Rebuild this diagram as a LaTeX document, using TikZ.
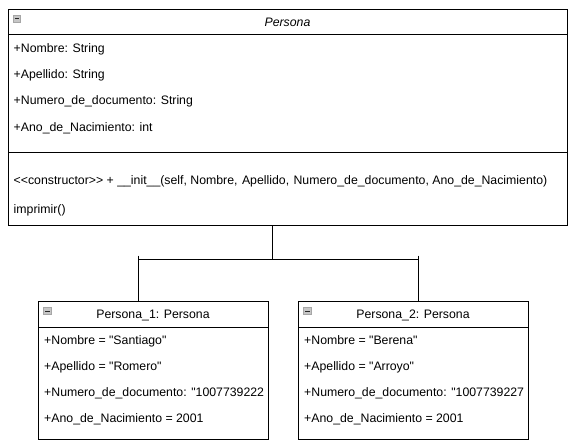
\documentclass[tikz,border=0pt]{standalone}
\usepackage{fontspec}
\setmainfont{Liberation Sans}
\usepackage{tikz}

\begin{document}
\begin{tikzpicture}[x=1pt,y=-1pt,
	every node/.style={font=\fontsize{12.3}{14}\selectfont},
	classbox/.style={draw=black,line width=1pt,anchor=north west,inner sep=0pt},
	member/.style={anchor=base west,inner sep=0pt},
	title/.style={anchor=base,inner sep=0pt},
	icon/.style={draw=gray!70,fill=gray!45,line width=0.8pt,minimum size=7.5pt,inner sep=0pt,
		path picture={\draw[black!85,line width=1pt] ([xshift=1.6pt]path picture bounding box.west) -- ([xshift=-1.6pt]path picture bounding box.east);}}]

	\useasboundingbox (0,0) rectangle (573,444);

	% clase Persona
	\node[classbox,minimum width=559pt,minimum height=216pt] (persona) at (8,9) {};
	\node[icon] (iconpersona) at (17,19) {};
	\node[title] (titlepersona) at (287.5,26.5) {\textit{Persona}};
	\draw[line width=1pt] (persona.west |- 0,35) -- (persona.east |- 0,35);
	\draw[line width=1pt] (persona.west |- 0,152.5) -- (persona.east |- 0,152.5);
	\node[member] (nombre)   at (13.5,52.5)  {+Nombre: String};
	\node[member] (apellido) at (13.5,78.5)  {+Apellido: String};
	\node[member] (numero)   at (13.5,104.5) {+Numero\_de\_documento: String};
	\node[member] (ano)      at (13.5,131)   {+Ano\_de\_Nacimiento: int};
	\node[member] (init)     at (13.5,184.5) {{<}{<}constructor{>}{>} + \_\_init\_\_(self, Nombre,\hspace{1pt} Apellido,\hspace{1pt} Numero\_de\_documento, Ano\_de\_Nacimiento)};
	\node[member] (imprimir) at (13.5,213.5) {imprimir()};

	% objeto Persona_1
	\node[classbox,minimum width=230pt,minimum height=138pt] (personaA) at (38,301) {};
	\node[icon] (iconA) at (47.5,311) {};
	\node[title] (titleA) at (153,318.5) {Persona\_1: Persona};
	\draw[line width=1pt] (personaA.west |- 0,327) -- (personaA.east |- 0,327);
	\node[member] (nombreA)   at (44,344.5) {+Nombre = \textquotedbl Santiago\textquotedbl};
	\node[member] (apellidoA) at (44,370.5) {+Apellido = \textquotedbl Romero\textquotedbl};
	\node[member] (numeroA)   at (44,396.5) {+Numero\_de\_documento: \textquotedbl 1007739222};
	\node[member] (anoA)      at (44,422.5) {+Ano\_de\_Nacimiento = 2001};

	% objeto Persona_2
	\node[classbox,minimum width=230pt,minimum height=138pt] (personaB) at (298,301) {};
	\node[icon] (iconB) at (307.5,311) {};
	\node[title] (titleB) at (413,318.5) {Persona\_2: Persona};
	\draw[line width=1pt] (personaB.west |- 0,327) -- (personaB.east |- 0,327);
	\node[member] (nombreB)   at (304,344.5) {+Nombre = \textquotedbl Berena\textquotedbl};
	\node[member] (apellidoB) at (304,370.5) {+Apellido = \textquotedbl Arroyo\textquotedbl};
	\node[member] (numeroB)   at (304,396.5) {+Numero\_de\_documento: \textquotedbl 1007739227};
	\node[member] (anoB)      at (304,422.5) {+Ano\_de\_Nacimiento = 2001};

	% conectores
	\coordinate (joint) at (272,259.5);
	\coordinate (jointA) at (138.5,259.5);
	\coordinate (jointB) at (418.5,259.5);
	\draw[line width=1pt] (joint |- persona.south) -- (joint);
	\draw[line width=1pt] (jointA) -- (jointB);
	\draw[line width=1pt] (jointA) ++(0,-4) -- (jointA |- personaA.north);
	\draw[line width=1pt] (jointB) ++(0,-4) -- (jointB |- personaB.north);

\end{tikzpicture}
\end{document}
